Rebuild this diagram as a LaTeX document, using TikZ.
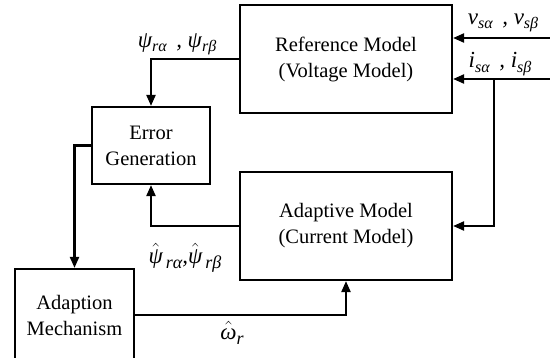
\documentclass[tikz,border=0pt]{standalone}
\usepackage{fontspec}
\setmainfont{Liberation Serif}
\usetikzlibrary{arrows.meta}
\newcommand\sbs[1]{\raisebox{-0.4ex}{\fontsize{16}{16}\selectfont #1}}
\newcommand\sbw[1]{\raisebox{-0.5ex}{\fontsize{18}{18}\selectfont #1}}
\newcommand\hh[1]{$\hat{\mbox{#1}}$}
\begin{document}
\begin{tikzpicture}[x=1pt,y=-1pt,
  box/.style={draw,line width=2.2pt,inner sep=0pt,align=center,font=\fontsize{20.5}{26}\selectfont},
  arr/.style={line width=2.2pt,-{Triangle[length=11pt,width=9pt]}},
  lab/.style={inner sep=0pt,font=\fontsize{23}{23}\selectfont\itshape}]
\clip (0,0) rectangle (550,358);
\useasboundingbox (0,0) rectangle (550,358);
\node[box,minimum width=212pt,minimum height=108pt] (ref) at (346,59) {Reference Model\\(Voltage Model)};
\node[box,minimum width=118pt,minimum height=77pt] (err) at (151,145.5) {Error\\Generation};
\node[box,minimum width=212pt,minimum height=108pt] (ada) at (346,226) {Adaptive Model\\(Current Model)};
\node[box,minimum width=119pt,minimum height=92pt] (mech) at (74.5,315) {Adaption\\Mechanism};
\coordinate (vin) at (550,38);
\coordinate (iin) at (550,79);
\coordinate (br) at (494,79);
\draw[arr] (vin) -- (vin -| ref.east);
\draw[arr] (iin) -- (iin -| ref.east);
\draw[arr] (br) |- (ada.east);
\draw[arr] (ref.west) -| (err.north);
\draw[arr] (err.west) -| (mech.north);
\draw[arr] (ada.west) -| (err.south);
\draw[arr] (mech.east) -| (ada.south);
\node[lab] (lv) at (503,23) {v\sbs{sα}\, , v\sbs{sβ}};
\node[lab] (li) at (500,64) {i\sbs{sα}\, , i\sbs{sβ}};
\node[lab] (lp) at (177,44) {ψ\sbs{rα}\, , ψ\sbs{rβ}};
\node[lab] (lh) at (185,258) {\hh{ψ}\sbw{\,rα},\hh{ψ}\sbw{\,rβ}};
\node[lab] (lw) at (232,333) {\hh{ω}\sbw{r}};
\end{tikzpicture}
\end{document}
